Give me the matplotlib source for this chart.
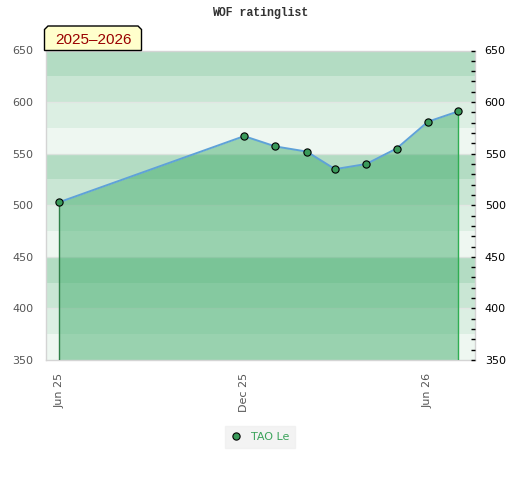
import matplotlib
matplotlib.use("Agg")
import matplotlib.pyplot as plt
import matplotlib.dates as mdates
from matplotlib.patches import Polygon
import numpy as np
import pandas as pd

# data
dates = pd.to_datetime(["2025-06-01", "2025-12-01", "2026-01-01", "2026-02-01",
                        "2026-03-01", "2026-04-01", "2026-05-01", "2026-06-01",
                        "2026-07-01"])
rating = [503, 567, 557, 552, 535, 540, 555, 581, 591]
player = "TAO Le"
season = "2025\u20132026"
tick_dates = pd.to_datetime(["2025-06-01", "2025-12-01", "2026-06-01"])
tick_labels = ["Jun 25", "Dec 25", "Jun 26"]
y_min, y_max = 350, 650

band_colors = ["#b3dcc3", "#c9e6d4", "#dcefe3", "#eef7f1"]

fig = plt.figure(figsize=(5.2, 4.8), dpi=100)
ax = fig.add_axes([46 / 520, 1 - 360 / 480, 429 / 520, 309.5 / 480])

# background bands, 25 points each, colour cycle every 100
for i, lo in enumerate(range(y_max - 25, y_min - 1, -25)):
    ax.axhspan(lo, lo + 25, color=band_colors[i % 4], lw=0, zorder=0)

for v in range(y_min + 50, y_max, 50):
    ax.axhline(v, color="#e4e4e4", lw=1, alpha=0.8, zorder=1)

x = mdates.date2num(dates)
ax.fill_between(x, rating, y_min, color="#3aaa66", alpha=0.47, lw=0, zorder=2)
ax.vlines(x[0], y_min, rating[0], color="#2f7f48", lw=1, zorder=3)
ax.vlines(x[-1], y_min, rating[-1], color="#2fae52", lw=1, zorder=3)
ax.plot(x, rating, color="#5fa2d8", lw=1.4, marker="o", markersize=5.2,
        markerfacecolor="#3a9a5a", markeredgecolor="black", markeredgewidth=0.8,
        label=player, zorder=4)

ax.set_xlim(x[0] - 13.2, x[-1] + 16.6)
ax.set_ylim(y_min, y_max)
ax.set_xticks(mdates.date2num(tick_dates))
ax.set_xticklabels(tick_labels, rotation=90, color="#555555", fontsize=8)
ax.set_yticks(range(y_min, y_max + 1, 50))
ax.tick_params(axis="x", length=0, pad=9)
ax.tick_params(axis="y", length=0, pad=9, labelcolor="#555555", labelsize=8)
for s in ax.spines.values():
    s.set_color("#d4d4d4")
    s.set_linewidth(1)

# right axis
ax2 = ax.twinx()
ax2.set_ylim(y_min, y_max)
ax2.set_yticks(range(y_min, y_max + 1, 50))
ax2.set_yticks(range(y_min, y_max + 1, 10), minor=True)
ax2.tick_params(axis="y", which="both", direction="in", length=3, width=1,
                color="black", pad=7, labelsize=8, labelcolor="black")
for s in ax2.spines.values():
    s.set_visible(False)

fig.text(0.5, 1 - 13 / 480, "WOF ratinglist", ha="center", va="center",
         family="Liberation Mono", fontweight="bold", fontsize=8.3, color="#333333")

# season badge with clipped top corners
x0, x1, yt, yb, c = 44.5, 141.5, 26, 50.5, 3.5
pts = [(x0, yb), (x0, yt + c), (x0 + c, yt), (x1 - c, yt), (x1, yt + c), (x1, yb)]
pts = [(px / 520, 1 - py / 480) for px, py in pts]
fig.patches.append(Polygon(pts, closed=True, facecolor="#ffffcc", edgecolor="black",
                           lw=1, transform=fig.transFigure, zorder=5))
fig.text((x0 + x1) / 2 / 520, 1 - 39.5 / 480, season, ha="center", va="center",
         family="Liberation Sans", fontsize=11, color="#990000", zorder=6)

leg = fig.legend(loc="center", bbox_to_anchor=(260 / 520, 1 - 437 / 480),
                 frameon=True, fontsize=8, labelcolor="#3aa35a",
                 handlelength=1.0, handletextpad=0.8, borderpad=0.5,
                 fancybox=False)
leg.get_frame().set_facecolor("#f0f0f0")
leg.get_frame().set_edgecolor("#f0f0f0")
for h in leg.legend_handles:
    h.set_linestyle("none")

fig.savefig("out.png", dpi=100)
